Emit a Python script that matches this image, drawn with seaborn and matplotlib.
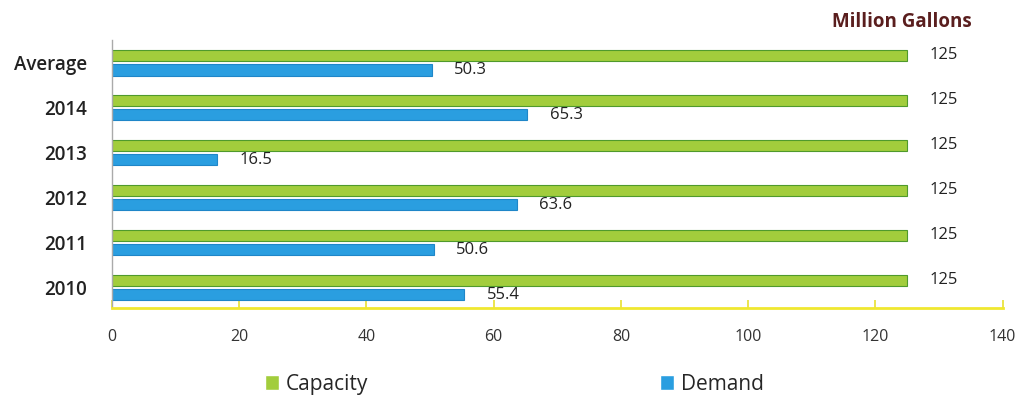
import matplotlib
matplotlib.use('Agg')
import matplotlib.pyplot as plt
import seaborn as sns
import pandas as pd

# data
years = ['Average', '2014', '2013', '2012', '2011', '2010']
capacity = [125, 125, 125, 125, 125, 125]
demand = [50.3, 65.3, 16.5, 63.6, 50.6, 55.4]
x_ticks = [0, 20, 40, 60, 80, 100, 120, 140]

df = pd.DataFrame({
    'year': years * 2,
    'value': capacity + demand,
    'series': ['Capacity'] * len(years) + ['Demand'] * len(years),
})

sns.set_style('white')
plt.rcParams['font.family'] = ['Open Sans', 'DejaVu Sans']

fig = plt.figure(figsize=(10.18, 3.96), dpi=100)
ax = fig.add_axes([0.11, 0.222, 0.875, 0.677])

palette = {'Capacity': '#a2cd3c', 'Demand': '#2a9ee0'}
sns.barplot(data=df, y='year', x='value', hue='series', order=years,
            palette=palette, orient='h', width=0.65, gap=0.24,
            saturation=1, ax=ax, legend=True)

edge = {'Capacity': '#4f9a2c', 'Demand': '#1f86c8'}
for cont, name in zip(ax.containers, ['Capacity', 'Demand']):
    for p in cont:
        p.set_edgecolor(edge[name])
        p.set_linewidth(0.8)
    ax.bar_label(cont, fmt='%g', padding=16,
                 fontsize=12, color='#222222')

ax.set_xlim(0, 140)
ax.set_ylim(5.46, -0.505)
ax.set_xticks(x_ticks)
ax.set_xticklabels([str(t) for t in x_ticks], fontsize=11.5, color='#333333')
ax.set_xlabel('')
ax.set_ylabel('')
for lab in ax.get_yticklabels():
    lab.set_fontsize(13.5)
    lab.set_fontweight('semibold')
    lab.set_color('#222222')

sns.despine(ax=ax, top=True, right=True)
ax.spines['left'].set_color('#aaaaaa')
ax.spines['left'].set_linewidth(1)
ax.spines['bottom'].set_color('#f0e830')
ax.spines['bottom'].set_linewidth(2)
ax.tick_params(axis='x', direction='in', length=6, width=1.2, color='#e8e030', pad=15, bottom=True)
ax.tick_params(axis='y', length=0, pad=18)

ax.text(0.965, 1.03, 'Million Gallons', transform=ax.transAxes, ha='right', va='bottom',
        fontsize=13.5, fontweight='bold', color='#5a1e1e')

handles, labels = ax.get_legend_handles_labels()
ax.get_legend().remove()
fig.legend(handles, labels, loc='lower center', bbox_to_anchor=(0.505, -0.045), ncol=2,
           frameon=False, fontsize=15, handlelength=0.7, handleheight=0.7,
           handletextpad=0.3, columnspacing=14)

fig.savefig('out.png', dpi=100)
